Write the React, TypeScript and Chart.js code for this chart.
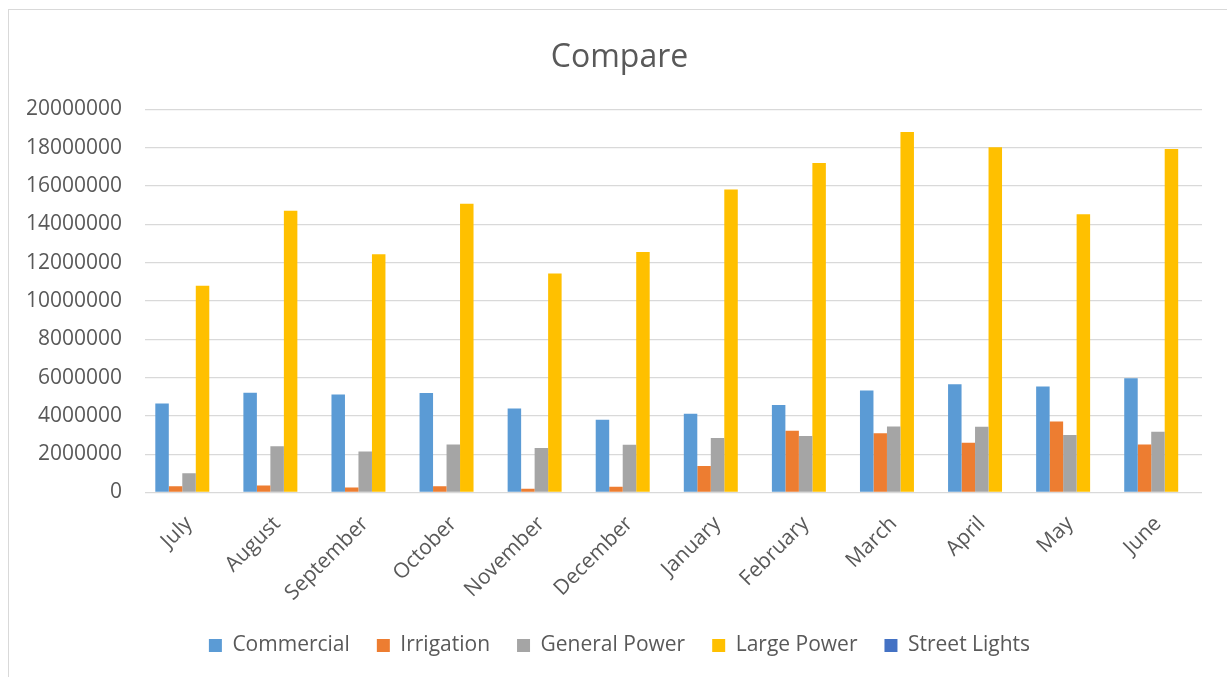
import React, { useEffect, useRef } from "react";
import { Chart, registerables } from "chart.js";

Chart.register(...registerables);

const months = [
  "July", "August", "September", "October", "November", "December",
  "January", "February", "March", "April", "May", "June",
];

const commercial = [4650000, 5210000, 5110000, 5200000, 4390000, 3800000, 4110000, 4570000, 5330000, 5650000, 5540000, 5960000];
const irrigation = [330000, 370000, 260000, 330000, 190000, 300000, 1380000, 3230000, 3090000, 2600000, 3710000, 2510000];
const generalPower = [1010000, 2420000, 2140000, 2510000, 2320000, 2490000, 2840000, 2950000, 3450000, 3430000, 3000000, 3170000];
const largePower = [10800000, 14710000, 12440000, 15080000, 11430000, 12550000, 15820000, 17200000, 18820000, 18020000, 14520000, 17930000];
const streetLights = [0, 0, 0, 0, 0, 0, 0, 0, 0, 0, 0, 0];

const yMax = 20000000;
const yStep = 2000000;

const FONT = "'Open Sans', 'DejaVu Sans', sans-serif";
const TEXT = "#595959";
const GRID = "#d9d9d9";

const W = 1221;
const H = 667;

export default function App() {
  const ref = useRef<HTMLCanvasElement | null>(null);

  useEffect(() => {
    if (!ref.current) return;
    const chart = new Chart(ref.current, {
      type: "bar",
      data: {
        labels: months,
        datasets: [
          { label: "Commercial", data: commercial, backgroundColor: "#5B9BD5" },
          { label: "Irrigation", data: irrigation, backgroundColor: "#ED7D31" },
          { label: "General Power", data: generalPower, backgroundColor: "#A5A5A5" },
          { label: "Large Power", data: largePower, backgroundColor: "#FFC000" },
          { label: "Street Lights", data: streetLights, backgroundColor: "#4472C4" },
        ],
      },
      options: {
        responsive: false,
        animation: false,
        datasets: {
          bar: { categoryPercentage: 0.766, barPercentage: 1, borderWidth: 0 },
        },
        layout: { padding: { left: 0, right: 0, top: 0, bottom: 11 } },
        plugins: {
          tooltip: { enabled: false },
          title: {
            display: true,
            text: "Compare",
            color: TEXT,
            font: { family: FONT, size: 32, weight: "normal" },
            padding: { top: 29, bottom: 32 },
          },
          legend: {
            position: "bottom",
            labels: {
              color: TEXT,
              font: { family: FONT, size: 21 },
              boxWidth: 13,
              boxHeight: 13,
              padding: 27,
            },
          },
        },
        scales: {
          x: {
            grid: { display: false },
            border: { display: false },
            ticks: {
              color: TEXT,
              font: { family: FONT, size: 21 },
              minRotation: 45,
              maxRotation: 45,
              padding: 11,
            },
            afterFit: (scale: any) => {
              scale.height = 115.5;
            },
          },
          y: {
            min: 0,
            max: yMax,
            border: { display: false },
            grid: { color: GRID, lineWidth: 1.3, drawTicks: false },
            ticks: {
              stepSize: yStep,
              color: TEXT,
              font: { family: FONT, size: 21 },
              padding: 23,
              callback: (v: any) => String(v),
            },
            afterFit: (scale: any) => {
              scale.width = 136;
            },
          },
          // empty right-hand margin inside the chart frame
          yRight: {
            type: "linear",
            position: "right",
            display: true,
            grid: { display: false },
            border: { display: false },
            ticks: { display: false },
            afterFit: (scale: any) => {
              scale.width = W - 1193;
            },
          },
        },
      },
    });
    return () => chart.destroy();
  }, []);

  return (
    <div
      style={{
        position: "fixed",
        left: 8,
        top: 9,
        width: W,
        height: H,
        borderLeft: "1px solid #d9d9d9",
        borderTop: "1px solid #d9d9d9",
        background: "#fff",
      }}
    >
      <canvas ref={ref} width={W} height={H} style={{ display: "block" }} />
    </div>
  );
}
